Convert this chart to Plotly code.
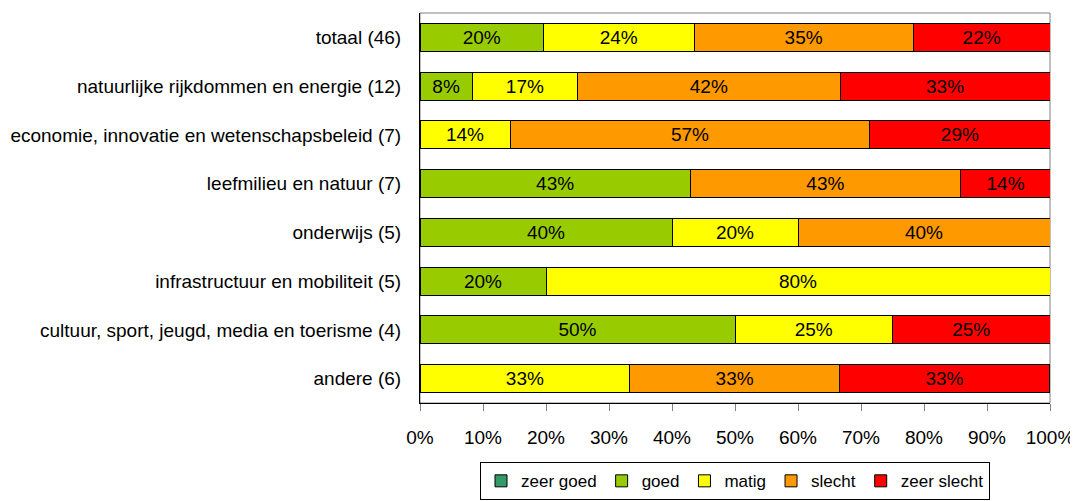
import plotly.graph_objects as go

categories = [
    "totaal (46)",
    "natuurlijke rijkdommen en energie (12)",
    "economie, innovatie en wetenschapsbeleid (7)",
    "leefmilieu en natuur (7)",
    "onderwijs (5)",
    "infrastructuur en mobiliteit (5)",
    "cultuur, sport, jeugd, media en toerisme (4)",
    "andere (6)",
]
zeer_goed = [None, None, None, None, None, None, None, None]
goed = [19.6, 8.3, None, 42.9, 40.0, 20.0, 50.0, None]
matig = [23.9, 16.7, 14.3, None, 20.0, 80.0, 25.0, 33.3]
slecht = [34.8, 41.7, 57.1, 42.9, 40.0, None, None, 33.3]
zeer_slecht = [21.7, 33.3, 28.6, 14.3, None, None, 25.0, 33.3]

series = [
    ("zeer goed", zeer_goed, "#339966"),
    ("goed", goed, "#99CC00"),
    ("matig", matig, "#FFFF00"),
    ("slecht", slecht, "#FF9900"),
    ("zeer slecht", zeer_slecht, "#FF0000"),
]
tick_vals = [0, 10, 20, 30, 40, 50, 60, 70, 80, 90, 100]
tick_text = [f"{v}%" for v in tick_vals]

FONT = "Liberation Sans Narrow, Arial Narrow, Liberation Sans, Arial, sans-serif"

fig = go.Figure()
for name, vals, color in series:
    fig.add_trace(go.Bar(
        name=name,
        y=categories,
        x=vals,
        orientation="h",
        marker=dict(color=color, line=dict(color="black", width=1)),
        texttemplate="%{x:.0f}%",
        textposition="inside",
        insidetextanchor="middle",
        textangle=0,
        constraintext="none",
        textfont=dict(family=FONT, size=19, color="black"),
        showlegend=True,
    ))

# gray frame around the plot area
fig.add_shape(type="rect", xref="paper", yref="paper", x0=0, x1=1, y0=0, y1=1,
              line=dict(color="#808080", width=1), layer="below")

# page body adds an 8px margin, so the figure is 8px smaller in each direction
fig.update_layout(
    barmode="stack",
    bargap=0.43,
    width=1070,
    height=493,
    margin=dict(l=412, r=28, t=5, b=98, autoexpand=False),
    plot_bgcolor="white",
    paper_bgcolor="white",
    font=dict(family=FONT, size=19, color="black"),
    uniformtext=dict(minsize=8, mode="show"),
    xaxis=dict(
        range=[0, 100],
        tickvals=tick_vals,
        ticktext=tick_text,
        showgrid=False,
        zeroline=False,
        showline=True,
        linecolor="black",
        linewidth=1,
        ticks="outside",
        ticklen=7,
        tickcolor="#808080",
        ticklabelstandoff=10,
        tickfont=dict(family=FONT, size=19),
        automargin=False,
        fixedrange=True,
    ),
    yaxis=dict(
        autorange="reversed",
        showgrid=False,
        showline=True,
        linecolor="black",
        linewidth=1,
        ticks="",
        ticklabelstandoff=14,
        tickfont=dict(family=FONT, size=19),
        automargin=False,
    ),
    legend=dict(
        orientation="h",
        x=0.5,
        xanchor="center",
        y=-0.152,
        yanchor="top",
        bordercolor="black",
        borderwidth=1,
        font=dict(family=FONT, size=17),
        itemwidth=30,
        tracegroupgap=0,
        traceorder="normal",
    ),
)

fig.write_html("out.html")
